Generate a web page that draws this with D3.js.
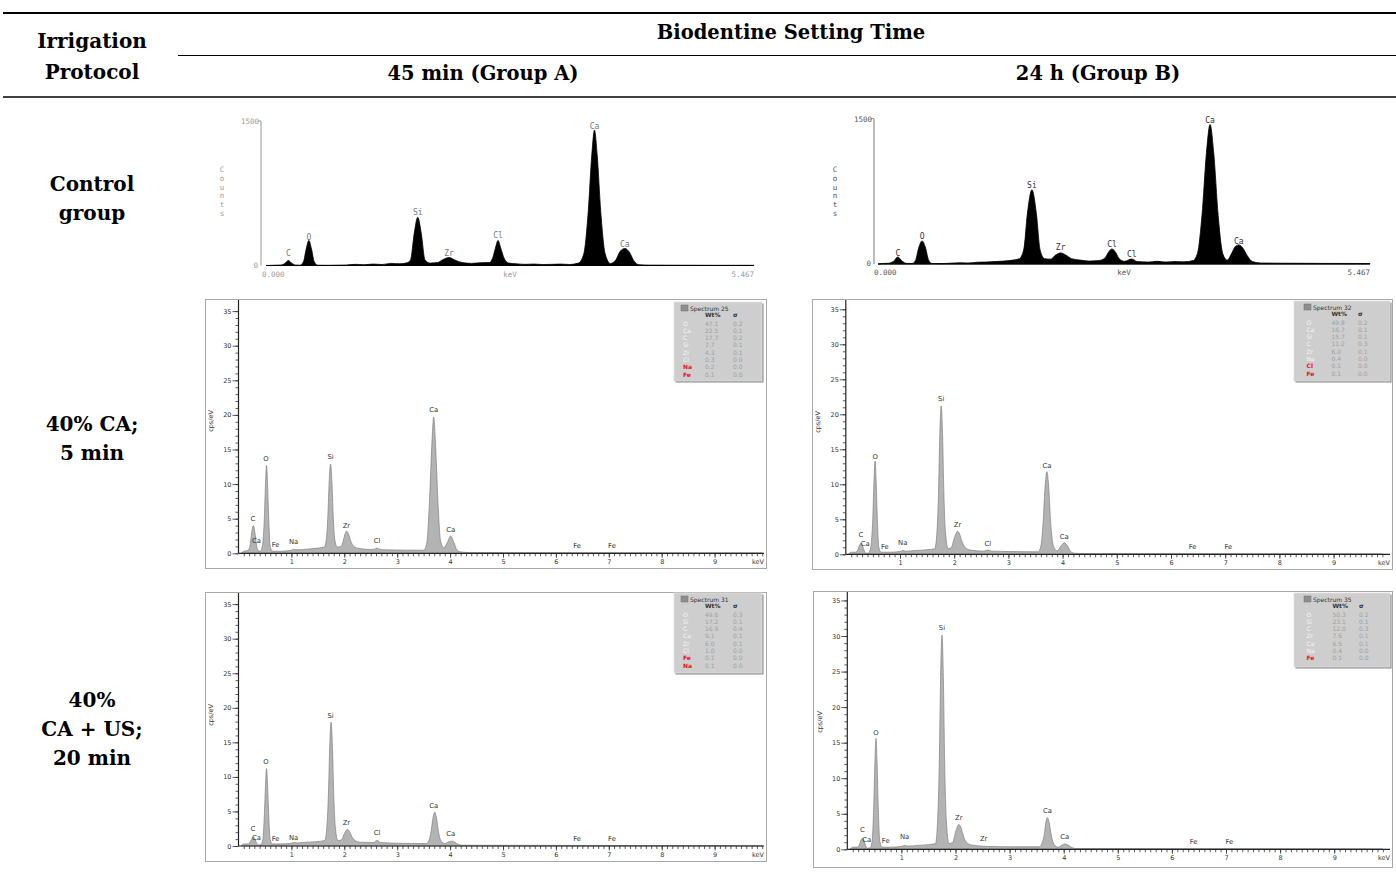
<!DOCTYPE html>
<html><head><meta charset="utf-8">
<script src="https://cdn.jsdelivr.net/npm/d3@7"></script>
<style>body{margin:0;background:#fff} svg{display:block}</style>
</head><body><svg id="c" width="1396" height="878"></svg>
<script>
// ---------------- DATA ----------------
const headerTitle = "Biodentine Setting Time";
const rowHeader = ["Irrigation", "Protocol"];
const colLabels = ["45 min (Group A)", "24 h (Group B)"];
const rowLabels = [["Control", "group"], ["40% CA;", "5 min"], ["40%", "CA + US;", "20 min"]];

const yTickValues = [0, 5, 10, 15, 20, 25, 30, 35];
const xTickValues = [1, 2, 3, 4, 5, 6, 7, 8, 9];
const countsTicks = ["1500", "0"];
const countsRange = ["0.000", "5.467"];

// Control group spectra (keV, counts)
const specControlA = [[0.0,0],[0.1,3],[0.17,5],[0.21,20],[0.25,52],[0.29,22],[0.33,5],[0.38,3],[0.42,40],[0.45,170],[0.48,260],[0.51,170],[0.54,40],[0.58,3],[0.7,2],[0.9,5],[1.0,12],[1.1,8],[1.2,15],[1.3,10],[1.4,22],[1.5,18],[1.58,28],[1.62,60],[1.66,330],[1.70,500],[1.74,330],[1.78,60],[1.84,25],[1.92,30],[1.98,60],[2.05,83],[2.12,55],[2.2,30],[2.3,22],[2.4,28],[2.5,30],[2.54,80],[2.57,180],[2.60,260],[2.63,180],[2.67,70],[2.72,25],[2.8,18],[2.9,12],[3.0,15],[3.1,10],[3.2,12],[3.3,15],[3.4,10],[3.5,25],[3.56,120],[3.61,560],[3.65,1150],[3.68,1406],[3.71,1150],[3.75,560],[3.80,120],[3.86,20],[3.92,60],[3.97,150],[4.02,177],[4.07,140],[4.12,50],[4.18,8],[4.3,4],[4.6,3],[5.0,2],[5.467,2]];
const specControlB = [[0.0,0],[0.05,5],[0.12,8],[0.17,25],[0.22,72],[0.27,28],[0.32,6],[0.38,5],[0.42,45],[0.45,160],[0.49,238],[0.53,160],[0.56,45],[0.6,5],[0.7,4],[0.8,8],[0.9,12],[1.0,10],[1.1,18],[1.2,20],[1.3,25],[1.4,30],[1.5,40],[1.57,55],[1.62,150],[1.66,520],[1.71,765],[1.76,520],[1.80,150],[1.85,55],[1.92,50],[1.97,90],[2.03,114],[2.09,90],[2.15,55],[2.25,40],[2.35,30],[2.45,35],[2.52,60],[2.56,120],[2.60,155],[2.64,120],[2.68,55],[2.74,28],[2.82,52],[2.88,25],[3.0,20],[3.1,28],[3.2,20],[3.3,25],[3.4,22],[3.5,35],[3.55,110],[3.6,500],[3.65,1150],[3.69,1438],[3.73,1150],[3.78,500],[3.83,110],[3.88,40],[3.93,110],[3.97,180],[4.01,197],[4.05,170],[4.1,90],[4.16,25],[4.25,10],[4.5,8],[5.0,6],[5.467,5]];
const lblControlA = [["C",0.25,95],["O",0.48,268],["Si",1.70,527],["Zr",2.05,95],["Cl",2.60,285],["Ca",3.68,1417],["Ca",4.02,189]];
const lblControlB = [["C",0.22,86],["O",0.49,258],["Si",1.71,784],["Zr",2.03,147],["Cl",2.60,175],["Cl",2.82,69],["Ca",3.69,1450],["Ca",4.01,206]];

// 40% CA; 5 min spectra (keV, cps/eV)
const specCA_A = [[0.05,0],[0.10,0.3],[0.18,0.4],[0.22,1.2],[0.25,3.0],[0.28,4.0],[0.31,3.0],[0.34,1.2],[0.37,0.4],[0.41,0.3],[0.45,1.0],[0.49,5.3],[0.51,9.9],[0.53,12.7],[0.55,9.9],[0.57,5.3],[0.60,1.0],[0.64,0.3],[0.8,0.3],[1.0,0.45],[1.04,0.6],[1.08,0.5],[1.3,0.6],[1.5,0.75],[1.62,0.9],[1.66,2.0],[1.69,5.5],[1.715,10.5],[1.74,12.9],[1.765,10.5],[1.79,5.5],[1.82,2.0],[1.87,0.9],[1.94,1.0],[1.98,1.8],[2.01,2.7],[2.04,3.2],[2.08,2.8],[2.12,1.8],[2.18,1.0],[2.28,0.7],[2.5,0.55],[2.58,0.6],[2.62,0.75],[2.66,0.6],[2.75,0.5],[3.2,0.45],[3.5,0.45],[3.56,1.5],[3.61,7.5],[3.66,16.5],[3.69,19.7],[3.72,16.5],[3.77,7.5],[3.82,1.8],[3.88,0.8],[3.95,1.6],[4.01,2.5],[4.07,1.6],[4.13,0.5],[4.2,0.2],[4.4,0.1],[9.9,0.05]];
const specCA_B = [[0.05,0],[0.10,0.3],[0.18,0.3],[0.22,0.6],[0.25,1.2],[0.28,1.57],[0.31,1.2],[0.34,0.5],[0.38,0.15],[0.42,0.2],[0.46,1.0],[0.50,5.5],[0.52,10.4],[0.54,13.3],[0.56,10.4],[0.58,5.5],[0.61,1.0],[0.65,0.3],[0.8,0.3],[1.0,0.4],[1.05,0.55],[1.1,0.45],[1.3,0.55],[1.5,0.65],[1.64,0.8],[1.68,3.0],[1.71,8.5],[1.735,17.2],[1.76,21.2],[1.785,17.2],[1.81,8.5],[1.84,3.0],[1.89,0.8],[1.95,1.0],[1.99,2.0],[2.03,2.9],[2.06,3.3],[2.10,2.9],[2.14,1.9],[2.2,1.0],[2.3,0.6],[2.55,0.45],[2.62,0.6],[2.69,0.45],[3.0,0.4],[3.55,0.35],[3.6,1.2],[3.64,4.5],[3.68,10.0],[3.71,11.8],[3.74,10.0],[3.78,4.5],[3.83,1.2],[3.9,0.5],[3.97,1.2],[4.03,1.66],[4.09,1.2],[4.15,0.4],[4.22,0.15],[4.4,0.1],[9.9,0.05]];
const lblCA_A = [["C",0.27,4.7],["Ca",0.34,1.5],["O",0.52,13.3],["Fe",0.70,0.9],["Na",1.04,1.35],["Si",1.74,13.6],["Zr",2.04,3.65],["Cl",2.62,1.5],["Ca",3.69,20.4],["Ca",4.01,3.15],["Fe",6.40,0.77],["Fe",7.06,0.77]];
const lblCA_B = [["C",0.28,2.5],["Ca",0.36,1.15],["O",0.54,13.65],["Fe",0.72,0.8],["Na",1.05,1.3],["Si",1.76,21.85],["Zr",2.06,3.9],["Cl",2.62,1.15],["Ca",3.71,12.3],["Ca",4.03,2.2],["Fe",6.40,0.8],["Fe",7.06,0.8]];

// 40% CA + US; 20 min spectra (keV, cps/eV)
const specUS_A = [[0.05,0],[0.10,0.3],[0.18,0.3],[0.22,0.6],[0.25,1.0],[0.28,1.3],[0.31,1.0],[0.34,0.45],[0.38,0.15],[0.42,0.2],[0.46,0.9],[0.49,4.7],[0.51,8.7],[0.53,11.2],[0.55,8.7],[0.57,4.7],[0.60,0.9],[0.64,0.3],[0.8,0.3],[1.0,0.4],[1.05,0.5],[1.1,0.45],[1.3,0.55],[1.5,0.65],[1.63,0.8],[1.67,2.7],[1.70,7.5],[1.725,14.5],[1.75,17.9],[1.775,14.5],[1.80,7.5],[1.83,2.7],[1.88,0.8],[1.95,0.9],[1.99,1.6],[2.03,2.2],[2.06,2.4],[2.10,2.1],[2.14,1.4],[2.2,0.8],[2.3,0.55],[2.55,0.5],[2.62,0.8],[2.69,0.5],[3.0,0.4],[3.55,0.35],[3.6,0.8],[3.64,2.1],[3.68,4.2],[3.71,4.9],[3.74,4.2],[3.78,2.1],[3.83,0.7],[3.9,0.35],[3.97,0.6],[4.03,0.7],[4.09,0.55],[4.15,0.25],[4.22,0.12],[4.4,0.1],[9.9,0.05]];
const specUS_B = [[0.05,0],[0.10,0.3],[0.18,0.3],[0.22,0.6],[0.25,1.2],[0.28,1.55],[0.31,1.2],[0.34,0.5],[0.38,0.15],[0.42,0.2],[0.46,1.2],[0.49,6.5],[0.51,12.2],[0.53,15.6],[0.55,12.2],[0.57,6.5],[0.60,1.2],[0.64,0.3],[0.8,0.3],[1.0,0.4],[1.06,0.55],[1.12,0.45],[1.3,0.55],[1.5,0.65],[1.63,0.8],[1.67,4.2],[1.70,12.0],[1.725,24.3],[1.75,30.1],[1.775,24.3],[1.80,12.0],[1.83,4.2],[1.88,0.8],[1.95,1.0],[1.99,2.1],[2.03,3.1],[2.06,3.5],[2.10,3.1],[2.14,2.0],[2.2,1.0],[2.3,0.6],[2.6,0.4],[3.0,0.35],[3.55,0.35],[3.6,0.9],[3.64,2.0],[3.67,3.8],[3.70,4.45],[3.73,3.8],[3.77,2.0],[3.82,0.7],[3.9,0.3],[3.97,0.6],[4.02,0.75],[4.08,0.6],[4.15,0.25],[4.22,0.12],[4.4,0.1],[9.9,0.05]];
const lblUS_A = [["C",0.27,2.2],["Ca",0.34,0.9],["O",0.52,11.9],["Fe",0.70,0.72],["Na",1.04,0.87],["Si",1.74,18.5],["Zr",2.04,3.0],["Cl",2.62,1.6],["Ca",3.69,5.5],["Ca",4.01,1.45],["Fe",6.40,0.72],["Fe",7.06,0.72]];
const lblUS_B = [["C",0.28,2.43],["Ca",0.36,1.03],["O",0.53,16.1],["Fe",0.71,0.93],["Na",1.06,1.4],["Si",1.75,30.85],["Zr",2.06,4.1],["Zr",2.52,1.17],["Ca",3.70,5.15],["Ca",4.02,1.4],["Fe",6.40,0.8],["Fe",7.06,0.8]];

// Quantification legends [element, Wt%, sigma]
const legendNames = ["Spectrum 25", "Spectrum 32", "Spectrum 31", "Spectrum 35"];
const legend25 = [["O","47.1","0.2"],["Ca","22.5","0.1"],["C","17.7","0.2"],["Si","7.7","0.1"],["Zr","4.3","0.1"],["Cl","0.3","0.0"],["Na","0.2","0.0"],["Fe","0.1","0.0"]];
const legend32 = [["O","49.8","0.2"],["Ca","16.7","0.1"],["Si","15.7","0.1"],["C","11.2","0.3"],["Zr","6.0","0.1"],["Na","0.4","0.0"],["Cl","0.1","0.0"],["Fe","0.1","0.0"]];
const legend31 = [["O","49.6","0.3"],["Si","17.2","0.1"],["C","16.9","0.4"],["Ca","9.1","0.1"],["Zr","6.0","0.1"],["Cl","1.0","0.0"],["Fe","0.1","0.0"],["Na","0.1","0.0"]];
const legend35 = [["O","50.3","0.2"],["Si","23.1","0.1"],["C","12.0","0.3"],["Zr","7.6","0.1"],["Ca","6.5","0.1"],["Na","0.4","0.0"],["Fe","0.1","0.0"]];
const red25 = ["Na","Fe"], red32 = ["Cl","Fe"], red31 = ["Fe","Na"], red35 = ["Fe"];

// ---------------- DRAW ----------------
const svg = d3.select("#c");
const serif = "'DejaVu Serif', serif";
const sans = "'DejaVu Sans', sans-serif";
const mono = "'DejaVu Sans Mono', monospace";

// table rules
svg.append("line").attr("x1",3).attr("x2",1396).attr("y1",13).attr("y2",13).attr("stroke","#000").attr("stroke-width",2);
svg.append("line").attr("x1",178).attr("x2",1396).attr("y1",55.5).attr("y2",55.5).attr("stroke","#000").attr("stroke-width",1);
svg.append("line").attr("x1",3).attr("x2",1396).attr("y1",97).attr("y2",97).attr("stroke","#000").attr("stroke-width",1.5);

function txt(s, x, y, size, anchor){
  return svg.append("text").attr("x",x).attr("y",y).attr("font-family",serif).attr("font-weight","bold")
    .attr("font-size",size).attr("text-anchor",anchor||"middle").attr("fill","#000").text(s);
}
txt(rowHeader[0], 92, 48, 20);
txt(rowHeader[1], 92, 79, 20);
txt(headerTitle, 791, 39, 19.5);
txt(colLabels[0], 483, 80, 19.5);
txt(colLabels[1], 1098, 80, 19.5);
const rowBase = [[191,220],[431,460],[707,736,765]];
rowLabels.forEach((lines,i)=>lines.forEach((s,j)=>txt(s, 92, rowBase[i][j], 20)));

// ---------- black (control) spectra ----------
function drawBlack(cfg, spec, labels, faint){
  const g = svg.append("g");
  const x = d3.scaleLinear().domain([0,5.467]).range([cfg.x0, cfg.x1]);
  const y = d3.scaleLinear().domain([0,1500]).range([cfg.y0, cfg.yTop]);
  const tc = faint ? "#9a9a9a" : "#555";
  g.append("line").attr("x1",cfg.ax).attr("x2",cfg.ax).attr("y1",cfg.yTop).attr("y2",cfg.y0)
    .attr("stroke", faint?"#999":"#777").attr("stroke-width",1);
  g.append("line").attr("x1",cfg.ax-3).attr("x2",cfg.ax).attr("y1",cfg.yTop).attr("y2",cfg.yTop).attr("stroke","#999");
  g.append("line").attr("x1",cfg.x0).attr("x2",cfg.x1).attr("y1",cfg.y0).attr("y2",cfg.y0).attr("stroke","#000").attr("stroke-width",1.2);
  const area = d3.area().x(d=>x(d[0])).y0(y(0)).y1(d=>y(d[1])).curve(d3.curveMonotoneX);
  g.append("path").datum(spec).attr("d",area).attr("fill","#000").attr("stroke","#000").attr("stroke-width",0.8);
  labels.forEach(l=>{
    g.append("text").attr("x",x(l[1])).attr("y",y(l[2])).attr("text-anchor","middle")
      .attr("font-family",mono).attr("font-size",8).attr("fill",faint?"#777":"#333").text(l[0]);
  });
  const f = (s,xx,yy,a)=>g.append("text").attr("x",xx).attr("y",yy).attr("text-anchor",a)
      .attr("font-family",mono).attr("font-size",7.5).attr("fill",tc).text(s);
  f(countsTicks[0], cfg.ax-2, cfg.yTop+3, "end");
  f(countsTicks[1], cfg.ax-3, cfg.y0+2, "end");
  f(countsRange[0], cfg.x0-4, cfg.y0+11, "start");
  f("keV", (cfg.x0+cfg.x1)/2, cfg.y0+11, "middle");
  f(countsRange[1], cfg.x1, cfg.y0+11, "end");
  "Counts".split("").forEach((ch,i)=>f(ch, cfg.cx, 172+i*8.8, "middle"));
}
drawBlack({ax:261, x0:266, x1:754, y0:265.5, yTop:121, cx:222}, specControlA, lblControlA, true);
drawBlack({ax:874, x0:878, x1:1370, y0:264, yTop:118.5, cx:835}, specControlB, lblControlB, false);

// ---------- gray (Aztec) spectra ----------
function drawGray(cfg, spec, labels, legName, legRows, reds, leg){
  const g = svg.append("g");
  g.append("rect").attr("x",cfg.fx+0.5).attr("y",cfg.fy+0.5).attr("width",cfg.fw).attr("height",cfg.fh)
    .attr("fill","#fff").attr("stroke","#a8a8a8").attr("stroke-width",1);
  const x = d3.scaleLinear().domain([0,10]).range([cfg.x0, cfg.x0+10*cfg.ppk]);
  const y = d3.scaleLinear().domain([0,35]).range([cfg.y0, cfg.y0-35*cfg.ppu]);
  const area = d3.area().x(d=>x(d[0])).y0(y(0)).y1(d=>y(d[1])).curve(d3.curveMonotoneX);
  g.append("path").datum(spec).attr("d",area).attr("fill","#b3b3b3").attr("stroke","#808080").attr("stroke-width",0.7);

  // y axis
  const yMinor = g.append("g").attr("transform",`translate(${cfg.x0},0)`)
    .call(d3.axisLeft(y).tickValues(d3.range(0,36,1)).tickSize(3).tickFormat(""));
  const yMajor = g.append("g").attr("transform",`translate(${cfg.x0},0)`)
    .call(d3.axisLeft(y).tickValues(yTickValues).tickSize(6).tickPadding(1));
  [yMinor,yMajor].forEach(a=>{a.select(".domain").remove(); a.selectAll("line").attr("stroke","#333").attr("stroke-width",0.8);});
  yMajor.selectAll("text").attr("font-family",sans).attr("font-size",6.5).attr("fill","#333");
  g.append("line").attr("x1",cfg.x0).attr("x2",cfg.x0).attr("y1",cfg.fy+1).attr("y2",cfg.y0).attr("stroke","#222").attr("stroke-width",1.2);

  // x axis
  const xMinor = g.append("g").attr("transform",`translate(0,${cfg.y0})`)
    .call(d3.axisBottom(x).tickValues(d3.range(0.1,9.95,0.1)).tickSize(3).tickFormat(""));
  const xMajor = g.append("g").attr("transform",`translate(0,${cfg.y0})`)
    .call(d3.axisBottom(x).tickValues(xTickValues).tickSize(4.5).tickPadding(1.5).tickFormat(d3.format("d")));
  [xMinor,xMajor].forEach(a=>{a.select(".domain").remove(); a.selectAll("line").attr("stroke","#333").attr("stroke-width",0.8);});
  xMajor.selectAll("text").attr("font-family",sans).attr("font-size",6.5).attr("fill","#333");
  g.append("line").attr("x1",cfg.x0).attr("x2",cfg.fx+cfg.fw-2).attr("y1",cfg.y0).attr("y2",cfg.y0).attr("stroke","#222").attr("stroke-width",1.2);
  g.append("text").attr("x",cfg.fx+cfg.fw-2).attr("y",cfg.y0+10.5).attr("text-anchor","end")
    .attr("font-family",sans).attr("font-size",6.5).attr("fill","#333").text("keV");
  g.append("text").attr("transform",`translate(${cfg.lx},${cfg.ly}) rotate(-90)`).attr("text-anchor","middle")
    .attr("font-family",sans).attr("font-size",6.5).attr("fill","#333").text("cps/eV");

  labels.forEach(l=>{
    g.append("text").attr("x",x(l[1])).attr("y",y(l[2])).attr("text-anchor","middle")
      .attr("font-family",sans).attr("font-size",6.8).attr("fill","#333").text(l[0]);
  });

  // legend
  const L = g.append("g");
  L.append("rect").attr("x",leg.x+1.5).attr("y",leg.y+1.5).attr("width",leg.w).attr("height",leg.h).attr("fill","#8a8a8a");
  L.append("rect").attr("x",leg.x).attr("y",leg.y).attr("width",leg.w).attr("height",leg.h)
    .attr("fill","#cecece").attr("stroke","#e2e2e2").attr("stroke-width",0.8);
  L.append("rect").attr("x",leg.x+leg.sw).attr("y",leg.y+3).attr("width",7).attr("height",6)
    .attr("fill","#8e8e8e").attr("stroke","#707070").attr("stroke-width",0.5);
  const t = (s,xx,yy,fill,bold)=>L.append("text").attr("x",xx).attr("y",yy).attr("font-family",sans)
    .attr("font-size",6).attr("font-weight",bold?"bold":"normal").attr("fill",fill).text(s);
  t(legName, leg.x+leg.sw+9, leg.y+8.5, "#333");
  t("Wt%", leg.x+leg.vx, leg.y+14.5, "#333", true);
  t("σ", leg.x+leg.ex, leg.y+14.5, "#333", true);
  legRows.forEach((r,i)=>{
    const yy = leg.y+23.5+i*7.3;
    t(r[0], leg.x+leg.nx, yy, reds.includes(r[0])?"#e5131c":"#f6f6f6", reds.includes(r[0]));
    t(r[1], leg.x+leg.vx, yy, "#a0a0a0");
    t(r[2], leg.x+leg.ex, yy, "#a0a0a0");
  });
}

drawGray({fx:205,fy:299,fw:561,fh:269,x0:238.5,ppk:52.9,y0:553.3,ppu:6.92,lx:213,ly:421},
  specCA_A, lblCA_A, legendNames[0], legend25, red25, {x:674,y:302,w:88,h:79,sw:7,nx:9,vx:31,ex:59});
drawGray({fx:812,fy:299,fw:580,fh:270,x0:845.8,ppk:54.2,y0:554.3,ppu:7.0,lx:820,ly:422},
  specCA_B, lblCA_B, legendNames[1], legend32, red32, {x:1294,y:301,w:96,h:80,sw:10,nx:12.5,vx:37.5,ex:64});
drawGray({fx:205,fy:592,fw:561,fh:269,x0:238.5,ppk:52.9,y0:846,ppu:6.91,lx:213,ly:715},
  specUS_A, lblUS_A, legendNames[2], legend31, red31, {x:674,y:593,w:88,h:80,sw:7,nx:9,vx:31,ex:59});
drawGray({fx:813,fy:591,fw:579,fh:276,x0:847.3,ppk:54.1,y0:849.3,ppu:7.11,lx:822,ly:722},
  specUS_B, lblUS_B, legendNames[3], legend35, red35, {x:1294,y:593,w:96,h:74,sw:10,nx:12.5,vx:38.5,ex:65});
</script>
</body></html>
